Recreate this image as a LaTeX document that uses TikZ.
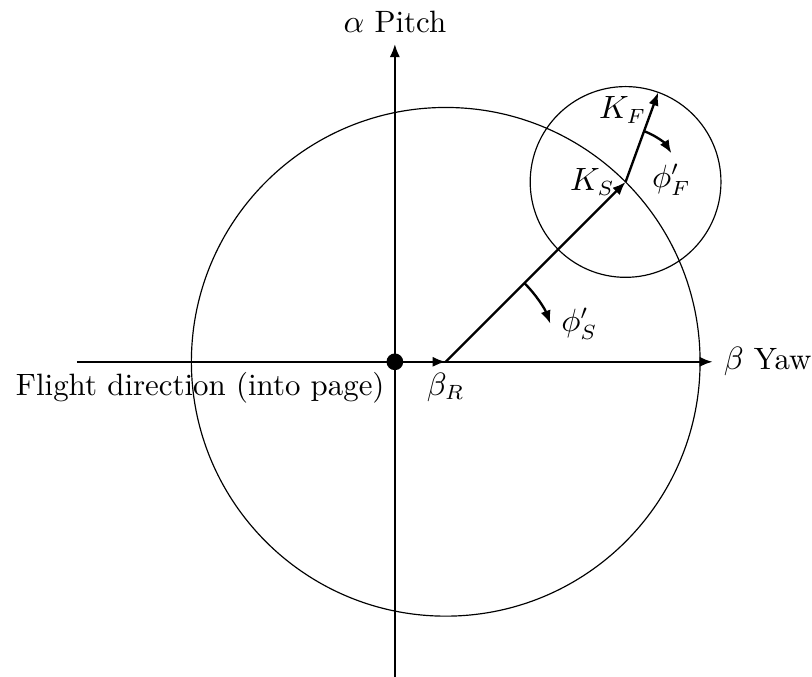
\documentclass[tikz,border=0pt]{standalone}
\usetikzlibrary{arrows.meta}

\begin{document}
\begin{tikzpicture}[x=0.76cm,y=0.76cm,every node/.style={font=\fontsize{10.5pt}{12.6pt}\selectfont},vec/.style={thick,-{Latex[length=4.5pt,width=3.5pt]}},dot/.style={circle,fill,inner sep=0pt,minimum size=2mm}]
  \useasboundingbox (-6.21,-4.95) rectangle (6.56,5.69);
  \coordinate (betaR) at (0.8,0);
  \coordinate (kS) at ([shift={(45:4)}]betaR);
  \coordinate (kF) at ([shift={(70:1.5)}]kS);
  \coordinate (xmin) at (-5,0);
  \coordinate (xmax) at (5,0);
  \coordinate (ymin) at (0,-5);
  \coordinate (ymax) at (0,5);
  \draw (betaR) circle[radius=4];
  \draw (kS) circle[radius=1.5];
  \draw[vec] (xmin) -- (xmax) node[right] (yaw) {$\beta$ Yaw};
  \draw[vec] (ymin) -- (ymax) node[above] (pitch) {$\alpha$ Pitch};
  \node[dot] (origin) at (0,0) {};
  \node[anchor=north east] (flight) at (origin.center) {Flight direction (into page)};
  \draw[vec] (origin) -- (betaR) node[below] (betalabel) {$\beta_R$};
  \draw[vec] (betaR) -- (kS) node[left] (kSlabel) {$K_S$};
  \draw[vec] (kS) -- (kF) node[pos=0.8,left,inner sep=1.5pt] (kFlabel) {$K_F$};
  \draw[vec] ([shift={(45:1.75)}]betaR) arc[start angle=45,end angle=20,radius=1.75] node[right] (phiS) {$\phi'_S$};
  \draw[vec] ([shift={(70:0.85)}]kS) arc[start angle=70,end angle=32,radius=0.85] node[below] (phiF) {$\phi'_F$};
\end{tikzpicture}
\end{document}
